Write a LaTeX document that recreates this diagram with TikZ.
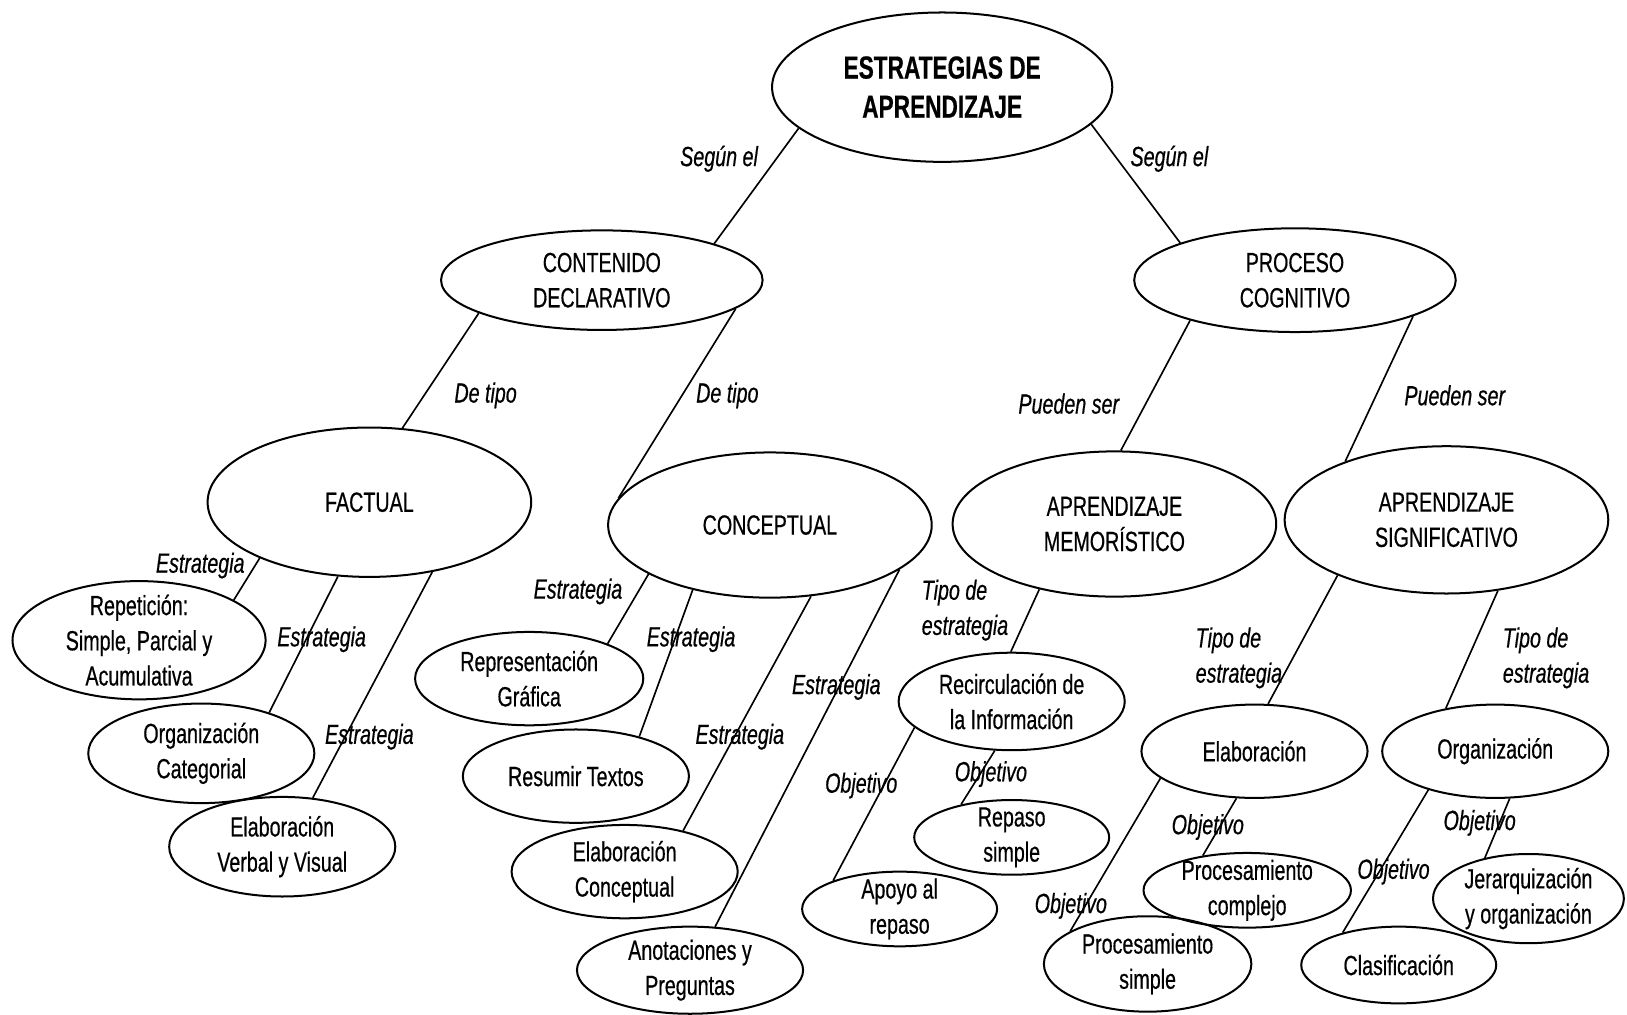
\documentclass[tikz,border=0pt]{standalone}
\usepackage{fontspec}
\setmainfont{Liberation Sans}[FakeStretch=0.71, FakeBold=0.5]
\usetikzlibrary{shapes.geometric}

\begin{document}
\begin{tikzpicture}[x=0.02cm, y=-0.02cm,
  bubble/.style 2 args={ellipse, draw, line width=1.1pt, inner sep=0pt, minimum width=#1*0.04cm, minimum height=#2*0.04cm},
  txt/.style={align=center, inner sep=0pt, font=\fontsize{15.2}{19.3}\selectfont},
  tag/.style={align=left, inner sep=0pt, font=\fontsize{15.2}{19.3}\selectfont\itshape},
  link/.style={line width=0.9pt}]

\useasboundingbox (0,0) rectangle (1568,978);

% ellipses
\node[bubble={164}{72}] (estrategias) at (908,84) {};
\node[bubble={155}{48}] (contenido) at (580,270) {};
\node[bubble={155}{50}] (proceso) at (1248,270) {};
\node[bubble={156}{72}] (factual) at (356,484) {};
\node[bubble={156}{70}] (conceptual) at (742,506) {};
\node[bubble={156}{70}] (memoristico) at (1074,505) {};
\node[bubble={156}{71}] (significativo) at (1394,501) {};
\node[bubble={122}{57}] (repeticion) at (134,617) {};
\node[bubble={109}{48}] (orgcat) at (194,726) {};
\node[bubble={109}{48}] (elabverbal) at (272,816) {};
\node[bubble={110}{45}] (grafica) at (510,654) {};
\node[bubble={109}{45}] (resumir) at (555,748) {};
\node[bubble={109}{45}] (elabconc) at (602,840) {};
\node[bubble={109}{42}] (anotaciones) at (665,935) {};
\node[bubble={109}{47}] (recirculacion) at (975,676) {};
\node[bubble={94}{36}] (repaso) at (975,807) {};
\node[bubble={94}{36}] (apoyo) at (867,876) {};
\node[bubble={109}{45}] (elaboracion) at (1209,724) {};
\node[bubble={109}{45}] (organizacion) at (1441,724) {};
\node[bubble={100}{36}] (complejo) at (1202,858) {};
\node[bubble={100}{46}] (simple) at (1106,929) {};
\node[bubble={92}{43}] (jerarquia) at (1473,866) {};
\node[bubble={94}{37}] (clasificacion) at (1348,930) {};

% texts
\node[txt, font=\fontsize{17.5}{21.5}\selectfont\bfseries] (estrategias-t) at (estrategias) {ESTRATEGIAS DE\\APRENDIZAJE};
\node[txt] (contenido-t) at (contenido) {CONTENIDO\\DECLARATIVO};
\node[txt] (proceso-t) at (proceso) {PROCESO\\COGNITIVO};
\node[txt] (factual-t) at (factual) {FACTUAL};
\node[txt] (conceptual-t) at (conceptual) {CONCEPTUAL};
\node[txt] (memoristico-t) at (memoristico) {APRENDIZAJE\\MEMORÍSTICO};
\node[txt] (significativo-t) at (significativo) {APRENDIZAJE\\SIGNIFICATIVO};
\node[txt] (repeticion-t) at (repeticion) {Repetición:\\Simple, Parcial y\\Acumulativa};
\node[txt] (orgcat-t) at (orgcat) {Organización\\Categorial};
\node[txt] (elabverbal-t) at (elabverbal) {Elaboración\\Verbal y Visual};
\node[txt] (grafica-t) at (grafica) {Representación\\Gráfica};
\node[txt] (resumir-t) at (resumir) {Resumir Textos};
\node[txt] (elabconc-t) at (elabconc) {Elaboración\\Conceptual};
\node[txt] (anotaciones-t) at (anotaciones) {Anotaciones y\\Preguntas};
\node[txt] (recirculacion-t) at (recirculacion) {Recirculación de\\la Información};
\node[txt] (repaso-t) at (repaso) {Repaso\\simple};
\node[txt] (apoyo-t) at (apoyo) {Apoyo al\\repaso};
\node[txt] (elaboracion-t) at (elaboracion) {Elaboración};
\node[txt] (organizacion-t) at (organizacion) {Organización};
\node[txt] (complejo-t) at (complejo) {Procesamiento\\complejo};
\node[txt] (simple-t) at (simple) {Procesamiento\\simple};
\node[txt] (jerarquia-t) at (jerarquia) {Jerarquización\\y organización};
\node[txt] (clasificacion-t) at (clasificacion) {Clasificación};

% connectors
\draw[link] (estrategias.196) -- (contenido.18);
\draw[link] (estrategias.346) -- (proceso.162);
\draw[link] (contenido.195) -- (factual.66);
\draw[link] (contenido.348) -- (conceptual.170);
\draw[link] (proceso.201) -- (memoristico.85);
\draw[link] (proceso.343) -- (significativo.150);
\draw[link] (factual.207) -- (repeticion.23);
\draw[link] (factual.247) -- (orgcat.31);
\draw[link] (factual.312) -- (elabverbal.58);
\draw[link] (conceptual.202) -- (grafica.24);
\draw[link] (conceptual.220) -- (resumir.32);
\draw[link] (conceptual.300) -- (elabconc.35);
\draw[link] (conceptual.341) -- (anotaciones.60);
\draw[link] (memoristico.221) -- (recirculacion.91);
\draw[link] (recirculacion.251) -- (repaso.147);
\draw[link] (recirculacion.195) -- (apoyo.157);
\draw[link] (significativo.207) -- (elaboracion.74);
\draw[link] (significativo.306) -- (organizacion.139);
\draw[link] (elaboracion.249) -- (complejo.142);
\draw[link] (elaboracion.196) -- (simple.157);
\draw[link] (organizacion.287) -- (jerarquia.137);
\draw[link] (organizacion.210) -- (clasificacion.150);

% connector labels
\node[tag] (seg1) at (693,153) {Según el};
\node[tag] (seg2) at (1127,153) {Según el};
\node[tag] (tipo1) at (468,381) {De tipo};
\node[tag] (tipo2) at (701,381) {De tipo};
\node[tag] (pued1) at (1030,389) {Pueden ser};
\node[tag] (pued2) at (1402,381) {Pueden ser};
\node[tag] (est1) at (193,545) {Estrategia};
\node[tag] (est2) at (310,616) {Estrategia};
\node[tag] (est3) at (356,710) {Estrategia};
\node[tag] (est4) at (557,570) {Estrategia};
\node[tag] (est5) at (666,616) {Estrategia};
\node[tag] (est6) at (713,710) {Estrategia};
\node[tag] (est7) at (806,662) {Estrategia};
\node[tag, anchor=west] (tde1) at (888,588) {Tipo de\\estrategia};
\node[tag, anchor=west] (tde2) at (1152,634) {Tipo de\\estrategia};
\node[tag, anchor=west] (tde3) at (1448,634) {Tipo de\\estrategia};
\node[tag] (obj1) at (830,757) {Objetivo};
\node[tag] (obj2) at (955,746) {Objetivo};
\node[tag] (obj3) at (1164,797) {Objetivo};
\node[tag] (obj4) at (1032,873) {Objetivo};
\node[tag] (obj5) at (1426,793) {Objetivo};
\node[tag] (obj6) at (1343,840) {Objetivo};

\end{tikzpicture}
\end{document}
